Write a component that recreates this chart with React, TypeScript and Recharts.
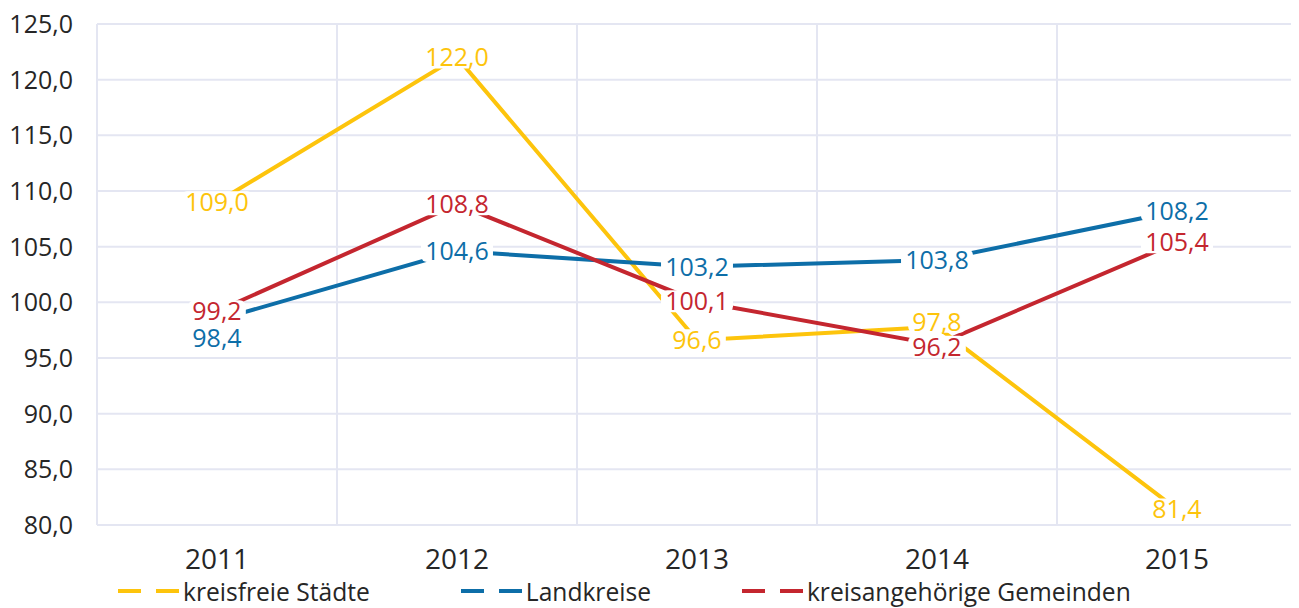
import React from 'react';
import { LineChart, Line, XAxis, YAxis, CartesianGrid, Legend, LabelList } from 'recharts';

const years = [2011, 2012, 2013, 2014, 2015];
const kreisfreieStaedte = [109.0, 122.0, 96.6, 97.8, 81.4];
const landkreise = [98.4, 104.6, 103.2, 103.8, 108.2];
const kreisangehoerige = [99.2, 108.8, 100.1, 96.2, 105.4];
const yTicks = [80, 85, 90, 95, 100, 105, 110, 115, 120, 125];
const bandEdges = [2010.5, 2011.5, 2012.5, 2013.5, 2014.5];

const FONT = '"Open Sans", "DejaVu Sans", sans-serif';
const GRID = '#e4e6f2';
const TEXT = '#262626';

const seriesList = [
  { key: 'kfs', name: 'kreisfreie Städte', color: '#fdc40c', values: kreisfreieStaedte },
  { key: 'lk', name: 'Landkreise', color: '#0d6ea8', values: landkreise },
  { key: 'kag', name: 'kreisangehörige Gemeinden', color: '#c4262f', values: kreisangehoerige },
];

const data = years.map((year, i) => {
  const row: any = { year };
  seriesList.forEach(s => { row[s.key] = s.values[i]; });
  return row;
});

const fmt = (v: number) => Number(v).toFixed(1).replace('.', ',');

const textWidth = (t: string, size: number) =>
  t.split('').reduce((w, c) => w + (c === ',' ? 0.27 : 0.572) * size, 0);

// labels that sit too close to a neighbour get nudged a little
const labelShift = (seriesKey: string, index: number) => {
  if (seriesKey === 'lk' && index === 0) return 18;
  if (seriesKey === 'kfs' && index === 3) return -5;
  if (seriesKey === 'kag' && index === 3) return 2;
  return 0;
};

const makeLabel = (color: string, seriesKey: string) => (props: any) => {
  const { x, y, value, index } = props;
  if (x == null || y == null || value == null) return null;
  const text = fmt(value);
  const w = textWidth(text, 25);
  const cy = y + labelShift(seriesKey, index);
  return (
    <g>
      <rect x={x - w / 2 - 4} y={cy - 11} width={w + 8} height={22} rx={6} fill="#ffffff" />
      <text x={x} y={cy} dy="0.36em" textAnchor="middle" fill={color} fontSize={25} fontFamily={FONT}>
        {text}
      </text>
    </g>
  );
};

const LegendContent = () => (
  <div style={{ display: 'flex', alignItems: 'center', paddingLeft: 110, fontFamily: FONT, fontSize: 24.6, color: TEXT, height: 34 }}>
    {seriesList.map(s => (
      <div key={s.key} style={{ display: 'flex', alignItems: 'center', marginRight: 91 }}>
        <svg width={62} height={10} style={{ marginRight: 3 }}>
          <line x1={0} y1={5} x2={62} y2={5} stroke={s.color} strokeWidth={4} strokeDasharray="23 15" />
        </svg>
        <span style={{ whiteSpace: 'nowrap' }}>{s.name}</span>
      </div>
    ))}
  </div>
);

export default function App() {
  return (
    <div style={{ width: 1291, height: 600, fontFamily: FONT }}>
      <LineChart width={1291} height={600} data={data} margin={{ top: 16, right: 2, bottom: 0, left: 0 }}>
        <CartesianGrid stroke={GRID} strokeWidth={2} verticalValues={bandEdges} />
        <XAxis
          dataKey="year"
          type="number"
          domain={[2010.5, 2015.5]}
          ticks={years}
          interval={0}
          axisLine={false}
          tickLine={false}
          tickSize={0}
          tickMargin={24}
          height={49}
          tick={{ fill: TEXT, fontSize: 28, fontFamily: FONT }}
          tickFormatter={(v) => String(v)}
        />
        <YAxis
          type="number"
          domain={[80, 125]}
          ticks={yTicks}
          interval={0}
          width={89}
          axisLine={false}
          tickLine={false}
          tickSize={0}
          tickMargin={24}
          tick={{ fill: TEXT, fontSize: 25, fontFamily: FONT }}
          tickFormatter={fmt}
        />
        <Legend verticalAlign="bottom" height={34} content={<LegendContent />} />
        {seriesList.map(s => (
          <Line
            key={s.key}
            type="linear"
            dataKey={s.key}
            name={s.name}
            stroke={s.color}
            strokeWidth={4}
            dot={false}
            activeDot={false}
            isAnimationActive={false}
          />
        ))}
        {seriesList.map(s => (
          <Line
            key={s.key + '-labels'}
            type="linear"
            dataKey={s.key}
            stroke="none"
            dot={false}
            activeDot={false}
            legendType="none"
            isAnimationActive={false}
          >
            <LabelList dataKey={s.key} content={makeLabel(s.color, s.key)} />
          </Line>
        ))}
      </LineChart>
    </div>
  );
}
